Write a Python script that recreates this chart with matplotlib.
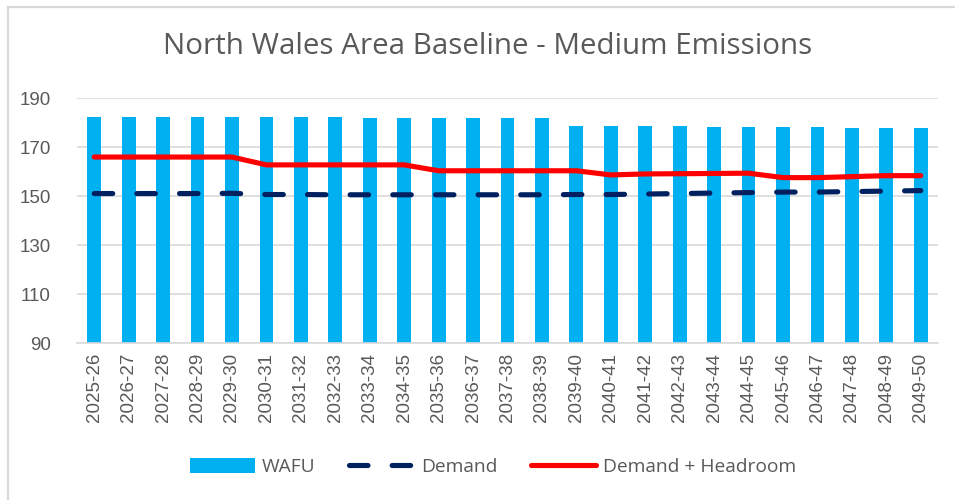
import matplotlib
matplotlib.use("Agg")
import matplotlib.pyplot as plt
from matplotlib.lines import Line2D
from matplotlib.patches import Patch

years = ["2025-26", "2026-27", "2027-28", "2028-29", "2029-30", "2030-31", "2031-32",
         "2032-33", "2033-34", "2034-35", "2035-36", "2036-37", "2037-38", "2038-39",
         "2039-40", "2040-41", "2041-42", "2042-43", "2043-44", "2044-45", "2045-46",
         "2046-47", "2047-48", "2048-49", "2049-50"]

wafu = [182.4, 182.4, 182.4, 182.4, 182.4, 182.4, 182.4, 182.4,
        182.0, 182.0, 182.0, 182.0, 182.0, 182.0,
        178.6, 178.6, 178.6, 178.6,
        178.2, 178.2, 178.2, 178.2,
        177.6, 177.6, 177.6]

demand = [151.0, 151.0, 151.0, 151.0, 151.1, 150.6, 150.6, 150.5, 150.5, 150.5,
          150.5, 150.5, 150.5, 150.5, 150.6, 150.6, 150.8, 151.0, 151.2, 151.4,
          151.6, 151.6, 151.8, 152.0, 152.2]

demand_headroom = [165.9, 165.9, 165.9, 165.9, 165.9, 162.7, 162.7, 162.7, 162.7, 162.7,
                   160.3, 160.3, 160.3, 160.3, 160.3, 158.6, 159.0, 159.1, 159.2, 159.3,
                   157.5, 157.5, 157.9, 158.3, 158.3]

W, H = 955, 500
fig = plt.figure(figsize=(W / 100, H / 100), dpi=100)
ax = fig.add_axes([77 / W, 1 - 343 / H, (938 - 77) / W, (343 - 98) / H])

LW = 3.7
DASH = (3.6, 4.7)

x = list(range(len(years)))
ax.bar(x, wafu, width=0.4, color="#00B0F0", zorder=2)
ax.plot(x, demand, color="#002060", lw=LW, dashes=DASH, dash_capstyle="round",
        solid_capstyle="round", zorder=3)
ax.plot(x, demand_headroom, color="#FF0000", lw=LW, solid_capstyle="round",
        solid_joinstyle="round", zorder=4)

ax.set_ylim(90, 190)
ax.set_yticks(range(90, 191, 20))
ax.set_xlim(-0.5, len(years) - 0.5)
ax.set_xticks(x)
ax.set_xticklabels(years, rotation=90, fontsize=13.5, color="#595959",
                   family="Liberation Sans")
for lbl in ax.get_yticklabels():
    lbl.set_fontsize(13.5)
    lbl.set_color("#595959")
    lbl.set_family("Liberation Sans")
ax.tick_params(axis="both", length=0)
ax.tick_params(axis="y", pad=19)
ax.tick_params(axis="x", pad=7)
ax.grid(axis="y", color="#D9D9D9", lw=1.2, zorder=0)
for side in ["top", "right", "left"]:
    ax.spines[side].set_visible(False)
ax.spines["bottom"].set_color("#D9D9D9")
ax.spines["bottom"].set_linewidth(1.2)

fig.text(488 / W, 1 - 47 / H, "North Wales Area Baseline - Medium Emissions",
         ha="center", va="center", fontsize=21.3, color="#595959", family="Open Sans")

handles = [
    Patch(facecolor="#00B0F0", edgecolor="none"),
    Line2D([], [], color="#002060", lw=LW, dashes=DASH, dash_capstyle="round"),
    Line2D([], [], color="#FF0000", lw=LW, solid_capstyle="round"),
]
fig.legend(handles, ["WAFU", "Demand", "Demand + Headroom"], loc="center",
           bbox_to_anchor=(493 / W, 1 - 467 / H), ncol=3, frameon=False,
           prop={"family": "Open Sans", "size": 13.8}, labelcolor="#595959",
           handlelength=3.4, handletextpad=0.35, columnspacing=1.75, handleheight=0.8)

# outer chart frame (left and top edges)
fig.add_artist(Line2D([8 / W, 8 / W], [0, 1 - 7 / H], transform=fig.transFigure,
                      color="#D9D9D9", lw=1.6))
fig.add_artist(Line2D([8 / W, 1], [1 - 7 / H, 1 - 7 / H], transform=fig.transFigure,
                      color="#D9D9D9", lw=1.6))

fig.savefig("out.png", dpi=100, facecolor="white")
